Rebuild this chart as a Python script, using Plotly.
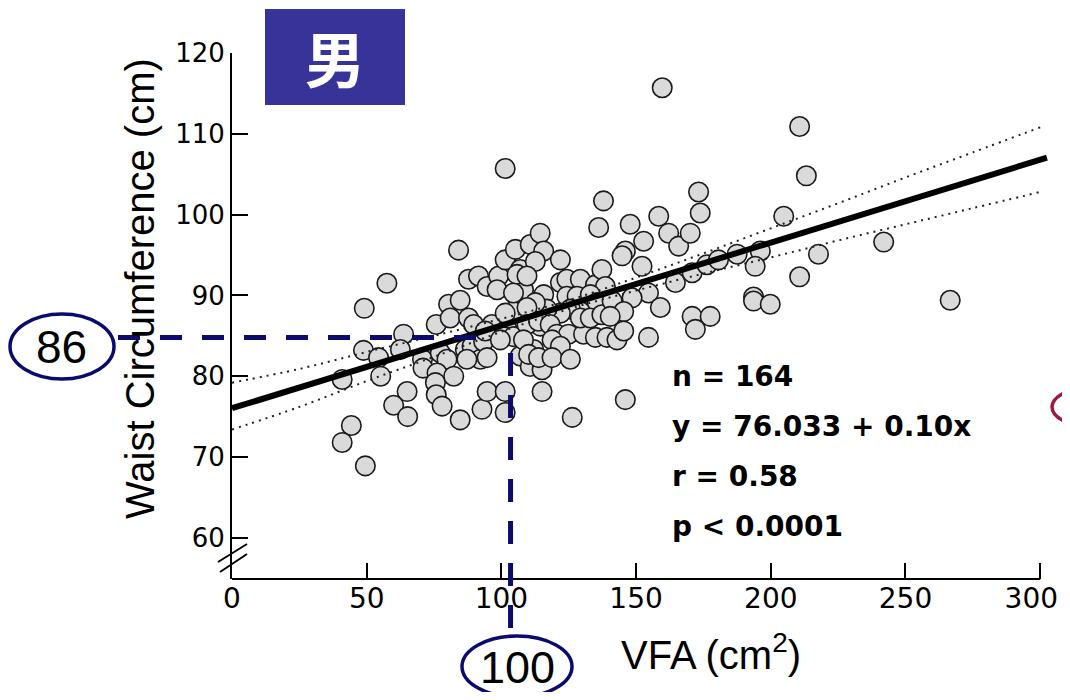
import plotly.graph_objects as go

# ---------------- data ----------------
vfa = [57.5, 49.1, 63.7, 48.8, 54.4, 55.2, 40.9, 62.5, 65.0, 60.0,
       65.2, 44.3, 40.9, 49.5, 70.7, 70.9, 75.8, 80.4, 84.7, 87.8,
       91.5, 81.0, 87.8, 89.7, 77.3, 79.8, 76.1, 75.5, 75.8, 78.0,
       82.3, 86.6, 89.1, 92.2, 87.2, 84.7, 92.8, 94.7, 93.4, 94.7,
       84.1, 96.5, 99.0, 98.4, 101.4, 105.2, 110.7, 114.4, 107.0, 108.2,
       104.5, 102.1, 100.8, 107.0, 112.0, 110.7, 115.1, 115.1, 113.2, 114.4,
       101.4, 101.4, 136.1, 115.7, 121.9, 112.6, 105.8, 109.5, 104.5, 115.7,
       121.9, 124.3, 129.3, 134.9, 137.3, 138.6, 124.3, 128.1, 133.0, 135.5,
       129.3, 125.6, 121.9, 116.9, 112.6, 109.5, 101.4, 94.0, 104.5, 109.5,
       113.8, 118.1, 120.6, 124.9, 130.5, 134.9, 129.3, 133.0, 137.3, 139.2,
       99.6, 108.2, 118.8, 121.9, 110.1, 113.8, 118.8, 125.6, 94.7, 137.9,
       147.8, 158.4, 173.2, 173.8, 162.1, 165.8, 170.1, 152.8, 146.0, 144.8,
       152.2, 164.6, 170.8, 176.3, 180.6, 154.6, 148.5, 141.1, 145.4, 140.4,
       159.0, 170.8, 177.5, 172.0, 142.9, 154.6, 145.4, 101.4, 159.7, 213.2,
       204.8, 241.9, 217.7, 196.1, 187.5, 194.2, 210.7, 193.6, 193.6, 199.8,
       266.6, 210.7, 126.3, 146.0]
waist = [91.5, 88.4, 85.2, 83.2, 82.3, 80.0, 79.6, 83.3, 78.1, 76.4,
         75.0, 73.9, 71.8, 68.9, 82.1, 81.0, 86.4, 88.9, 89.4, 92.0,
         92.4, 87.2, 87.2, 86.4, 82.9, 82.1, 80.4, 79.2, 77.7, 76.3,
         80.0, 83.3, 83.7, 82.1, 82.1, 74.6, 75.9, 78.1, 84.3, 91.1,
         95.6, 86.4, 92.4, 90.7, 94.4, 95.7, 96.3, 97.7, 93.2, 90.7,
         88.0, 85.8, 84.9, 82.5, 83.3, 81.2, 80.8, 78.1, 87.4, 86.2,
         78.1, 75.5, 98.4, 95.5, 94.4, 94.2, 92.6, 92.4, 90.3, 90.1,
         91.6, 92.0, 92.0, 91.3, 93.2, 91.1, 89.9, 89.9, 90.1, 89.1,
         88.0, 88.3, 87.8, 88.3, 89.1, 88.5, 87.8, 85.6, 84.9, 86.4,
         86.8, 86.4, 85.2, 85.2, 85.2, 84.8, 87.2, 87.2, 87.6, 84.8,
         84.5, 84.5, 84.5, 83.7, 82.7, 82.3, 82.3, 82.1, 82.3, 101.7,
         98.8, 99.8, 102.8, 100.2, 97.7, 96.1, 97.7, 96.7, 95.5, 94.9,
         93.6, 91.6, 92.8, 93.8, 94.4, 90.3, 89.7, 89.3, 88.0, 87.4,
         88.5, 87.4, 87.4, 85.8, 84.5, 84.8, 85.6, 105.7, 115.7, 104.8,
         99.8, 96.6, 95.1, 95.5, 95.1, 93.6, 92.3, 89.8, 89.3, 88.9,
         89.4, 110.9, 74.9, 77.1]

# regression line (as drawn) and its confidence band
INTERCEPT = 76.033
SLOPE = 0.1025
line_x = [0, 302.5]
band_x = [0, 25, 50, 75, 100, 125, 150, 175, 200, 225, 250, 275, 300]
band_upper = [79.2, 80.9, 83.0, 85.0, 87.1, 89.4, 92.2, 95.2, 98.3, 101.4, 104.6, 107.7, 110.8]
band_lower = [73.4, 76.2, 79.4, 82.4, 85.5, 88.3, 90.6, 92.7, 94.7, 96.8, 98.8, 100.8, 102.8]

x_ticks = [0, 50, 100, 150, 200, 250, 300]
x_tick_labels = ["0", "50", "100", "150", "200", "250", "300\u00a0\u00a0"]
y_ticks = [60, 70, 80, 90, 100, 110, 120]
stats_lines = ["n = 164", "y = 76.033 + 0.10x", "r = 0.58", "p < 0.0001"]
cut_labels = ["86", "100"]
CUT_WAIST_DRAWN = 84.8
CUT_VFA_DRAWN = 103.4

# ---------------- layout geometry ----------------
OFF = 8                      # page body margin
W, H = 1062, 684
ML, MR, MT, MB = 224, 22, 45, 113
XR = [0, 302.9]
YR = [54.9, 120]
PW, PH = W - ML - MR, H - MT - MB


def px_x(px):
    return (px - OFF - ML) / PW


def px_y(py):
    return (H - MB - (py - OFF)) / PH


def dx(v):
    return (v - XR[0]) / (XR[1] - XR[0])


def dy(v):
    return (v - YR[0]) / (YR[1] - YR[0])


NAVY = "#0b0b6e"
fig = go.Figure()

fig.add_trace(go.Scatter(
    x=vfa, y=waist, mode="markers",
    marker=dict(size=19.5, color="#dadada", line=dict(color="#1a1a1a", width=1.6)),
    showlegend=False, hoverinfo="x+y"))

fig.add_trace(go.Scatter(x=band_x, y=band_upper, mode="lines", line_shape="spline",
                         line=dict(color="#222222", width=2, dash="2px,5px"), showlegend=False))
fig.add_trace(go.Scatter(x=band_x, y=band_lower, mode="lines", line_shape="spline",
                         line=dict(color="#222222", width=2, dash="2px,5px"), showlegend=False))

fig.add_trace(go.Scatter(x=line_x, y=[INTERCEPT + SLOPE * v for v in line_x], mode="lines",
                         line=dict(color="black", width=6), showlegend=False))

shapes = []
shapes.append(dict(type="line", xref="paper", yref="paper", x0=dx(0), x1=dx(300), y0=0, y1=0,
                   line=dict(color="black", width=2)))
shapes.append(dict(type="line", xref="paper", yref="paper", x0=px_x(218), y0=px_y(562),
                   x1=px_x(247), y1=px_y(544), line=dict(color="black", width=2)))
shapes.append(dict(type="line", xref="paper", yref="paper", x0=px_x(220), y0=px_y(572),
                   x1=px_x(247), y1=px_y(554), line=dict(color="black", width=2)))
shapes.append(dict(type="rect", xref="paper", yref="paper", x0=px_x(265), x1=px_x(405),
                   y0=px_y(105), y1=px_y(9), fillcolor="#383398", line=dict(width=0)))
shapes.append(dict(type="line", xref="paper", yref="paper", x0=px_x(118), x1=px_x(478),
                   y0=dy(CUT_WAIST_DRAWN), y1=dy(CUT_WAIST_DRAWN),
                   line=dict(color=NAVY, width=5, dash="22px,20px")))
shapes.append(dict(type="line", xref="paper", yref="paper", x0=dx(CUT_VFA_DRAWN), x1=dx(CUT_VFA_DRAWN),
                   y0=px_y(353), y1=px_y(630),
                   line=dict(color=NAVY, width=5, dash="23px,19px")))
shapes.append(dict(type="circle", xref="paper", yref="paper", x0=px_x(10), x1=px_x(114),
                   y0=px_y(379), y1=px_y(314), line=dict(color=NAVY, width=3.5)))
shapes.append(dict(type="circle", xref="paper", yref="paper", x0=px_x(462), x1=px_x(572),
                   y0=px_y(697), y1=px_y(636), line=dict(color=NAVY, width=3.5)))
shapes.append(dict(type="circle", xref="paper", yref="paper", x0=px_x(1052), x1=px_x(1166),
                   y0=px_y(430), y1=px_y(384), line=dict(color="#9c1a40", width=3.5)))

C = dict(xref="paper", yref="paper", showarrow=False, xanchor="center", yanchor="middle")
ann = []
ann.append(dict(C, text="<b>男</b>", x=px_x(335), y=px_y(57),
                font=dict(family="Noto Sans CJK SC", size=60, color="white")))
ann.append(dict(C, text=cut_labels[0], x=px_x(61), y=px_y(347),
                font=dict(family="Liberation Sans, Arial", size=46, color="black")))
ann.append(dict(C, text=cut_labels[1], x=px_x(517), y=px_y(667),
                font=dict(family="Liberation Sans, Arial", size=45, color="black")))
for i, s in enumerate(stats_lines):
    ann.append(dict(C, text="<b>" + s + "</b>", x=px_x(670), y=px_y(377 + 49.7 * i), xanchor="left",
                    font=dict(family="DejaVu Sans", size=28, color="black")))
ann.append(dict(C, text="Waist Circumference (cm)", x=px_x(140), y=px_y(289), textangle=-90,
                font=dict(family="Liberation Sans, Arial", size=40, color="black")))
ann.append(dict(C, text="VFA (cm<sup>2</sup>)", x=px_x(711), y=px_y(652),
                font=dict(family="Liberation Sans, Arial", size=40, color="black")))

fig.update_layout(
    width=W, height=H, autosize=False,
    margin=dict(l=ML, r=MR, t=MT, b=MB),
    paper_bgcolor="white", plot_bgcolor="white",
    shapes=shapes, annotations=ann, showlegend=False,
    xaxis=dict(range=XR, showline=False, showgrid=False, zeroline=False, automargin=False,
               ticks="inside", ticklen=16, tickwidth=2, tickcolor="black",
               tickvals=x_ticks, ticktext=x_tick_labels,
               ticklabeloverflow="allow",
               tickfont=dict(family="DejaVu Sans", size=28, color="black")),
    yaxis=dict(range=YR, showline=True, linecolor="black", linewidth=2, showgrid=False, zeroline=False,
               automargin=False,
               ticks="inside", ticklen=16, tickwidth=2, tickcolor="black",
               tickvals=y_ticks, ticktext=[str(v) for v in y_ticks],
               tickfont=dict(family="DejaVu Sans", size=26, color="black")),
)

fig.write_html("out.html")
